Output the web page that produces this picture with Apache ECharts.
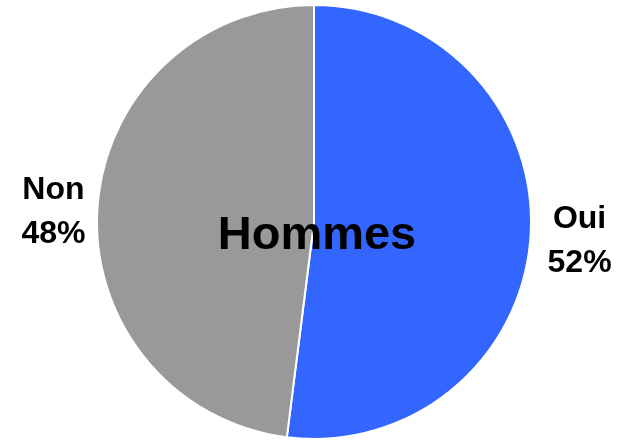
<!DOCTYPE html>
<html>
<head>
<meta charset="utf-8">
<script src="https://cdn.jsdelivr.net/npm/echarts@6/dist/echarts.min.js"></script>
<style>
  html, body { margin: 0; padding: 0; background: #fff; }
  #chart { width: 625px; height: 440px; }
</style>
</head>
<body>
<div id="chart"></div>
<script>
const categories = ["Oui", "Non"];
const values = [52, 48];
const colors = ["#3366FF", "#999999"];

const chart = echarts.init(document.getElementById("chart"));

chart.setOption({
  animation: false,
  title: {
    text: "Hommes",
    left: 312,
    top: 208,
    textAlign: "center",
    textStyle: {
      fontFamily: "Liberation Sans",
      fontSize: 47,
      fontWeight: "bold",
      color: "#000",
    },
  },
  series: [
    {
      type: "pie",
      center: [314, 222],
      radius: [0, 217],
      startAngle: 90,
      clockwise: true,
      data: categories.map((name, i) => ({
        name,
        value: values[i],
        itemStyle: { color: colors[i] },
      })),
      itemStyle: { borderColor: "#fff", borderWidth: 2 },
      label: {
        show: true,
        position: "outside",
        formatter: "{b}\n{d}%",
        fontFamily: "Liberation Sans",
        fontSize: 32,
        fontWeight: "bold",
        color: "#000",
        lineHeight: 44,
        overflow: "none",
      },
      labelLine: { show: false, length: 14, length2: 0 },
      // centre the two text lines on each other, as in the original
      labelLayout: (p) => ({
        x: p.labelRect.x + p.labelRect.width / 2 + (p.dataIndex === 0 ? -2 : 7),
        y: p.labelRect.y + p.labelRect.height / 2 + 5,
        align: "center",
        verticalAlign: "middle",
      }),
      emphasis: { disabled: true },
    },
  ],
});
</script>
</body>
</html>
